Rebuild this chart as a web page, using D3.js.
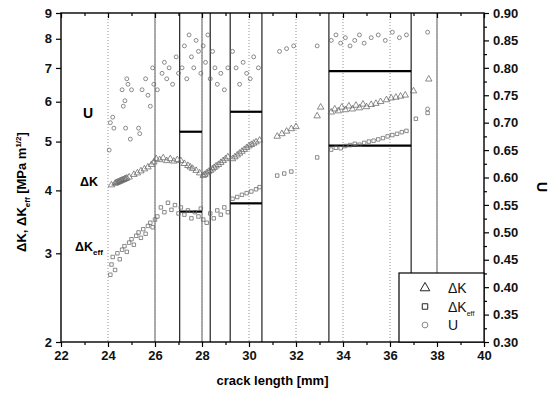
<!DOCTYPE html>
<html>
<head>
<meta charset="utf-8">
<script src="https://cdn.jsdelivr.net/npm/d3@7"></script>
<style>
  body { margin: 0; background: #fff; }
  text { font-family: "Liberation Sans", Arial, sans-serif; }
</style>
</head>
<body>
<svg id="chart" width="551" height="394"></svg>
<script>
// axis ticks
const xTicks = [22, 24, 26, 28, 30, 32, 34, 36, 38, 40];
const xMinor = [23, 25, 27, 29, 31, 33, 35, 37, 39];
const kTicks = [2, 3, 4, 5, 6, 7, 8, 9];
const uTicks = [0.30, 0.35, 0.40, 0.45, 0.50, 0.55, 0.60, 0.65, 0.70, 0.75, 0.80, 0.85, 0.90];
const uMinor = [0.325, 0.375, 0.425, 0.475, 0.525, 0.575, 0.625, 0.675, 0.725, 0.775, 0.825, 0.875];

// dotted grid and load-change positions [mm]
const gridLines = [24, 26, 28, 30, 32, 34, 36, 38];
const loadChanges = [27.05, 28.35, 29.2, 30.55, 33.4, 36.9];
const greyChanges = [26.0, 28.0, 38.0];

// level lines: [x start, x end, ΔK]
const levelLines = [
  [27.05, 28.0, 5.23],
  [27.05, 28.0, 3.63],
  [29.2, 30.55, 5.73],
  [29.2, 30.55, 3.77],
  [33.4, 36.9, 6.90],
  [33.4, 36.9, 4.91]
];

// ΔK [MPa m^1/2]
const deltaK = [
  [24.15,4.10],[24.3,4.13],[24.35,4.14],[24.4,4.15],[24.45,4.16],[24.5,4.17],[24.55,4.18],[24.6,4.19],
  [24.65,4.20],[24.7,4.21],[24.75,4.22],[24.8,4.23],[24.9,4.25],
  [25.1,4.30],[25.25,4.33],[25.4,4.37],[25.55,4.41],[25.7,4.45],[25.85,4.50],[25.95,4.55],
  [26.05,4.62],[26.2,4.60],[26.35,4.64],[26.5,4.58],[26.65,4.62],[26.8,4.57],[26.95,4.60],
  [27.1,4.58],[27.25,4.52],[27.4,4.48],[27.5,4.45],[27.6,4.42],[27.75,4.38],[27.9,4.33],
  [28.05,4.28],[28.12,4.30],[28.2,4.33],[28.28,4.36],[28.36,4.38],[28.44,4.41],[28.52,4.44],
  [28.6,4.47],[28.7,4.50],[28.8,4.54],[28.9,4.58],[29.0,4.62],[29.1,4.66],
  [29.3,4.62],[29.4,4.66],[29.5,4.70],[29.6,4.74],[29.7,4.78],[29.8,4.82],[29.9,4.86],
  [30.0,4.90],[30.1,4.93],[30.2,4.96],[30.3,4.99],[30.45,5.03],
  [31.2,5.12],[31.4,5.18],[31.6,5.24],[31.8,5.30],[32.0,5.35],[32.9,5.62],[33.05,5.85],
  [33.5,5.72],[33.65,5.80],[33.8,5.75],[33.95,5.85],[34.1,5.78],[34.25,5.88],[34.4,5.80],
  [34.55,5.90],[34.7,5.83],[34.85,5.93],[35.0,5.86],[35.2,5.92],[35.4,5.95],[35.6,6.00],
  [35.85,6.05],[36.05,6.10],[36.25,6.12],[36.45,6.15],[36.65,6.18],
  [37.0,6.30],[37.65,6.65]
];

// ΔKeff [MPa m^1/2]
const deltaKeff = [
  [24.1,2.72],[24.15,2.85],[24.2,2.95],[24.3,2.78],[24.4,3.00],[24.5,2.92],[24.6,3.05],
  [24.7,3.10],[24.8,3.02],[24.9,3.15],[25.0,3.20],[25.1,3.12],[25.2,3.25],[25.3,3.30],
  [25.4,3.22],[25.5,3.35],[25.6,3.28],[25.7,3.40],[25.8,3.45],[25.9,3.38],[26.0,3.50],
  [26.1,3.55],[26.25,3.70],[26.4,3.62],[26.55,3.78],[26.7,3.66],[26.85,3.74],[27.0,3.60],
  [27.1,3.70],[27.25,3.58],[27.4,3.65],[27.55,3.52],[27.7,3.62],[27.85,3.55],[27.95,3.68],
  [28.05,3.50],[28.2,3.45],[28.35,3.60],[28.5,3.52],[28.65,3.65],[28.8,3.58],[28.95,3.70],[29.1,3.62],
  [29.3,3.85],[29.5,3.88],[29.7,3.92],[29.9,3.95],[30.1,3.98],[30.3,4.02],[30.45,4.06],
  [31.2,4.28],[31.5,4.32],[31.8,4.36],[32.9,4.65],
  [33.5,4.82],[33.7,4.86],[33.9,4.85],[34.1,4.90],[34.3,4.92],[34.5,4.95],[34.7,4.93],
  [34.9,4.97],[35.1,5.00],[35.3,5.02],[35.5,5.05],[35.7,5.08],[35.9,5.12],[36.1,5.15],
  [36.3,5.18],[36.5,5.22],[36.7,5.25],
  [37.1,5.55],[37.6,5.70]
];

// U (right axis)
const uRatio = [
  [24.05,0.65],[24.1,0.70],[24.2,0.71],[24.25,0.69],[24.6,0.76],[24.65,0.73],[24.72,0.74],
  [24.75,0.69],[24.8,0.78],[24.85,0.77],[24.95,0.67],[25.0,0.76],[25.3,0.69],[25.35,0.68],
  [25.45,0.76],[25.6,0.78],[25.7,0.75],[25.8,0.73],[25.9,0.80],[25.95,0.77],
  [26.1,0.76],[26.3,0.79],[26.4,0.81],[26.5,0.78],[26.6,0.80],[26.75,0.77],[26.9,0.82],[27.0,0.79],
  [27.15,0.80],[27.25,0.84],[27.35,0.78],[27.45,0.86],[27.55,0.82],[27.65,0.80],[27.75,0.85],
  [27.85,0.83],[27.95,0.79],
  [28.05,0.84],[28.15,0.81],[28.25,0.86],[28.35,0.78],[28.45,0.83],[28.55,0.80],[28.65,0.77],
  [28.8,0.79],[28.95,0.76],[29.1,0.80],
  [29.3,0.83],[29.45,0.80],[29.6,0.77],[29.75,0.81],[29.9,0.79],[30.05,0.78],[30.2,0.82],[30.4,0.80],
  [31.3,0.83],[31.6,0.835],[31.9,0.84],[32.9,0.84],
  [33.5,0.85],[33.7,0.86],[33.9,0.845],[34.1,0.855],[34.3,0.84],[34.5,0.85],[34.7,0.86],
  [34.9,0.845],[35.2,0.855],[35.5,0.86],[35.8,0.85],[36.1,0.865],[36.4,0.855],[36.7,0.86],
  [37.6,0.725],[37.6,0.865]
];

const svg = d3.select('#chart');
const plotLeft = 61, plotRight = 484, plotTop = 13, plotBottom = 342;

const x = d3.scaleLinear().domain([22, 40]).range([plotLeft, plotRight]);
const yK = d3.scaleLog().domain([2, 9]).range([plotBottom, plotTop]);
const yU = d3.scaleLinear().domain([0.30, 0.90]).range([plotBottom, plotTop]);

// grid + event lines
svg.append('g').selectAll('line').data(gridLines).enter().append('line')
  .attr('x1', d => x(d)).attr('x2', d => x(d))
  .attr('y1', plotTop).attr('y2', plotBottom)
  .style('stroke', '#777').style('stroke-width', 0.8).style('stroke-dasharray', '1,2');

svg.append('g').selectAll('line').data(greyChanges).enter().append('line')
  .attr('x1', d => x(d)).attr('x2', d => x(d))
  .attr('y1', plotTop).attr('y2', plotBottom)
  .style('stroke', '#999').style('stroke-width', 1.6);

svg.append('g').selectAll('line').data(loadChanges).enter().append('line')
  .attr('x1', d => x(d)).attr('x2', d => x(d))
  .attr('y1', plotTop).attr('y2', plotBottom)
  .style('stroke', '#222').style('stroke-width', 1.2);

// level lines
svg.append('g').selectAll('line').data(levelLines).enter().append('line')
  .attr('x1', d => x(d[0])).attr('x2', d => x(d[1]))
  .attr('y1', d => yK(d[2])).attr('y2', d => yK(d[2]))
  .style('stroke', '#000').style('stroke-width', 2.2);

// markers
const markStyle = sel => sel.style('fill', 'none').style('stroke', '#666').style('stroke-width', 0.75);

svg.append('g').selectAll('path').data(deltaK).enter().append('path')
  .attr('d', d3.symbol().type(d3.symbolTriangle).size(18))
  .attr('transform', d => `translate(${x(d[0])},${yK(d[1])})`)
  .call(markStyle);

svg.append('g').selectAll('path').data(deltaKeff).enter().append('path')
  .attr('d', d3.symbol().type(d3.symbolSquare).size(12))
  .attr('transform', d => `translate(${x(d[0])},${yK(d[1])})`)
  .call(markStyle);

svg.append('g').selectAll('path').data(uRatio).enter().append('path')
  .attr('d', d3.symbol().type(d3.symbolCircle).size(12))
  .attr('transform', d => `translate(${x(d[0])},${yU(d[1])})`)
  .call(markStyle);

// axes
const styleAxis = g => {
  g.select('.domain').remove();
  g.selectAll('line').style('stroke', '#000').style('stroke-width', 1.2);
  g.selectAll('text').style('font-size', '13px').style('font-weight', 'bold').style('fill', '#111');
};

svg.append('g').attr('transform', `translate(0,${plotBottom})`)
  .call(d3.axisBottom(x).tickValues(xTicks).tickSize(5).tickPadding(4).tickFormat(d3.format('d')))
  .call(styleAxis);
svg.append('g').attr('transform', `translate(0,${plotBottom})`)
  .call(d3.axisBottom(x).tickValues(xMinor).tickSize(3).tickFormat(''))
  .call(styleAxis);
svg.append('g').attr('transform', `translate(0,${plotTop})`)
  .call(d3.axisBottom(x).tickValues(xTicks).tickSize(5).tickFormat(''))
  .call(styleAxis);
svg.append('g').attr('transform', `translate(0,${plotTop})`)
  .call(d3.axisBottom(x).tickValues(xMinor).tickSize(3).tickFormat(''))
  .call(styleAxis);

svg.append('g').attr('transform', `translate(${plotLeft},0)`)
  .call(d3.axisLeft(yK).tickValues(kTicks).tickSize(5).tickPadding(4).tickFormat(d3.format('d')))
  .call(styleAxis);

svg.append('g').attr('transform', `translate(${plotRight},0)`)
  .call(d3.axisRight(yU).tickValues(uTicks).tickSize(5).tickPadding(4).tickFormat(d3.format('.2f')))
  .call(styleAxis);
svg.append('g').attr('transform', `translate(${plotRight},0)`)
  .call(d3.axisRight(yU).tickValues(uMinor).tickSize(3).tickFormat(''))
  .call(styleAxis);

// frame
svg.append('rect')
  .attr('x', plotLeft).attr('y', plotTop).attr('width', plotRight - plotLeft).attr('height', plotBottom - plotTop)
  .style('fill', 'none').style('stroke', '#000').style('stroke-width', 1.4);

// axis titles
svg.append('text')
  .attr('x', (plotLeft + plotRight) / 2).attr('y', 385)
  .attr('text-anchor', 'middle')
  .style('font-size', '13px').style('font-weight', 'bold')
  .text('crack length [mm]');

const yTitle = svg.append('text')
  .attr('transform', 'translate(26,192) rotate(-90)')
  .attr('text-anchor', 'middle')
  .style('font-size', '13px').style('font-weight', 'bold');
yTitle.append('tspan').text('\u0394K, \u0394K');
yTitle.append('tspan').attr('dy', 4).style('font-size', '8px').text('eff');
yTitle.append('tspan').attr('dy', -4).text(' [MPa m');
yTitle.append('tspan').attr('dy', -5).style('font-size', '8px').text('1/2');
yTitle.append('tspan').attr('dy', 5).text(']');

svg.append('text')
  .attr('transform', 'translate(537,187) rotate(90)')
  .attr('text-anchor', 'middle')
  .style('font-size', '14px').style('font-weight', 'bold')
  .text('U');

// in-plot labels
svg.append('text').attr('x', 83).attr('y', 118)
  .style('font-size', '14px').style('font-weight', 'bold').text('U');
svg.append('text').attr('x', 80).attr('y', 186)
  .style('font-size', '12.5px').style('font-weight', 'bold').text('\u0394K');
const effLabel = svg.append('text').attr('x', 75).attr('y', 251)
  .style('font-size', '12.5px').style('font-weight', 'bold');
effLabel.append('tspan').text('\u0394K');
effLabel.append('tspan').attr('dy', 4).style('font-size', '8px').text('eff');

// legend
const legend = svg.append('g');
legend.append('rect')
  .attr('x', 399).attr('y', 273).attr('width', plotRight - 399).attr('height', plotBottom - 273)
  .style('fill', '#fff').style('stroke', '#000').style('stroke-width', 1.2);

const legendItems = [
  { sym: d3.symbolTriangle, size: 40, label: '\u0394K', sub: '' },
  { sym: d3.symbolSquare, size: 30, label: '\u0394K', sub: 'eff' },
  { sym: d3.symbolCircle, size: 26, label: 'U', sub: '' }
];
legendItems.forEach((it, i) => {
  const cy = 288 + i * 18.5;
  legend.append('path')
    .attr('d', d3.symbol().type(it.sym).size(it.size))
    .attr('transform', `translate(425,${cy})`)
    .style('fill', 'none').style('stroke', i === 2 ? '#888' : '#222').style('stroke-width', 1);
  const t = legend.append('text').attr('x', 448).attr('y', cy + 5)
    .style('font-size', '14px').style('fill', '#111').text(it.label);
  if (it.sub) t.append('tspan').attr('dy', 4).style('font-size', '7px').text(it.sub);
});
</script>
</body>
</html>
